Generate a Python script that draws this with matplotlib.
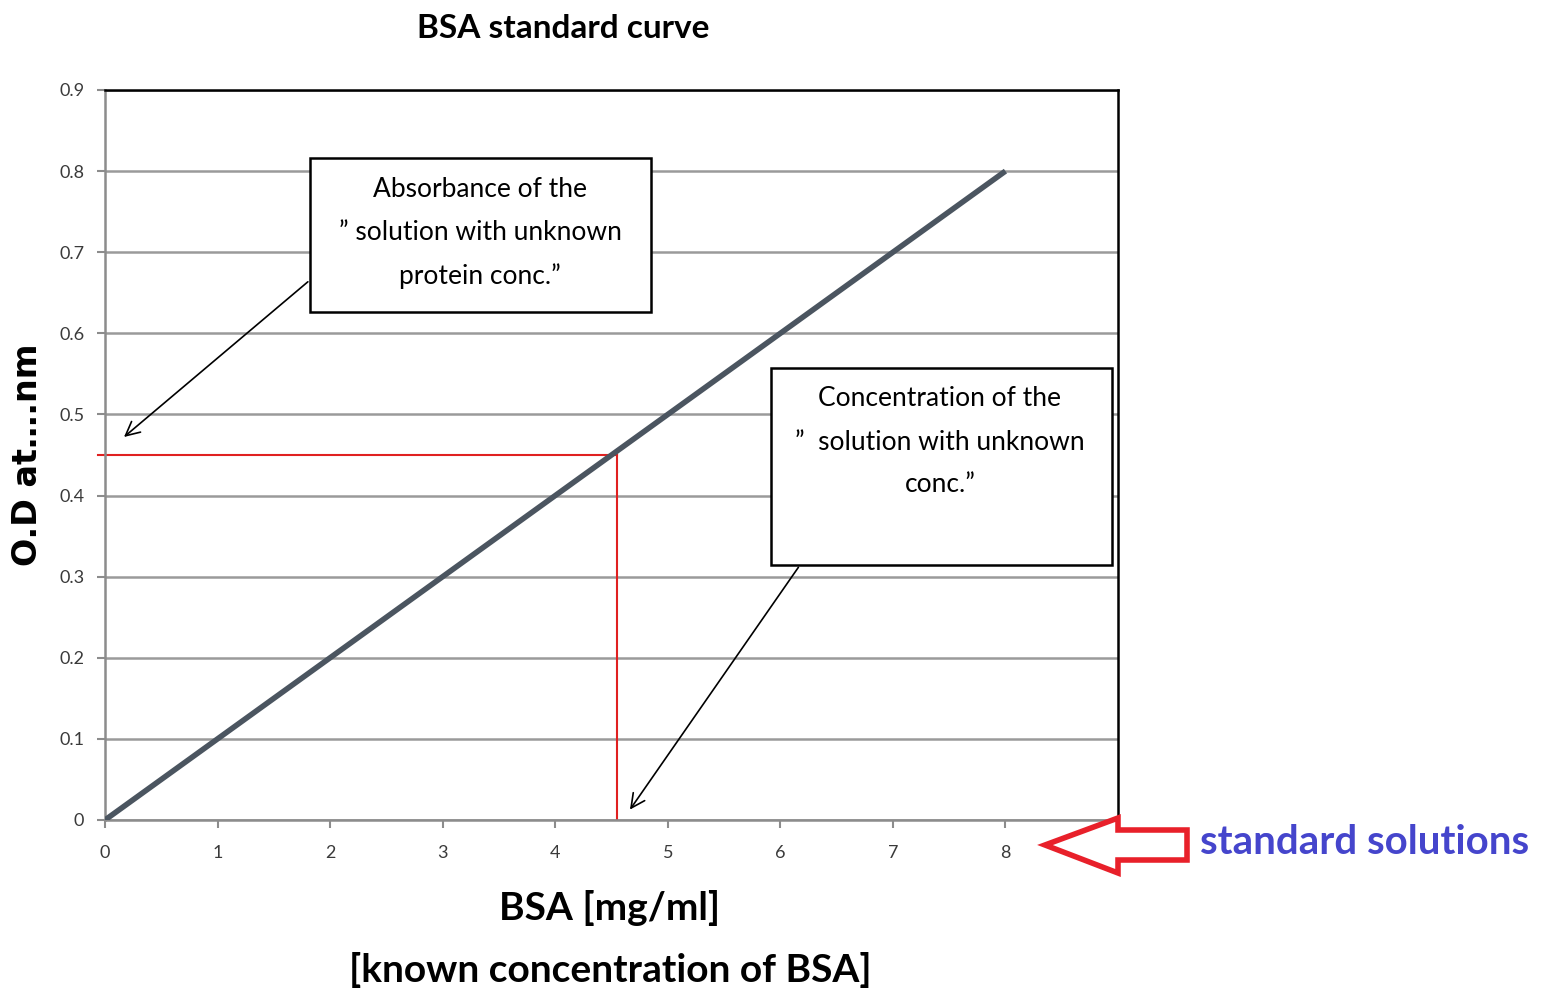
import matplotlib
matplotlib.use('Agg')
import matplotlib.pyplot as plt
import matplotlib.patches as mpatches

plt.rcParams['font.family'] = ['Lato', 'DejaVu Sans']

# стандартная кривая BSA
bsa_conc = [0, 8]
od_values = [0, 0.8]
unknown_od = 0.45
unknown_conc = 4.55

x_ticks = [0, 1, 2, 3, 4, 5, 6, 7, 8]
y_ticks = [0, 0.1, 0.2, 0.3, 0.4, 0.5, 0.6, 0.7, 0.8, 0.9]

W, H = 1554, 994
fig = plt.figure(figsize=(W / 100, H / 100), dpi=100)
ax = fig.add_axes([105 / W, 1 - 820 / H, 1013 / W, 730 / H])

ax.set_xlim(0, 9)
ax.set_ylim(0, 0.9)
ax.set_xticks(x_ticks)
ax.set_yticks(y_ticks)
ax.set_xticklabels([str(t) for t in x_ticks])
ax.set_yticklabels(['0'] + [f'{t:.1f}' for t in y_ticks[1:]])
ax.yaxis.grid(True, color='#9a9a9a', linewidth=1.8)
ax.set_axisbelow(True)
ax.tick_params(axis='both', colors='#8c8c8c', length=6, width=1.5, labelsize=13,
               labelcolor='#3a3a3a', direction='out')
ax.tick_params(axis='x', pad=12)
ax.tick_params(axis='y', pad=9)
for side in ['left', 'bottom']:
    ax.spines[side].set_color('#8c8c8c')
for side in ['left', 'bottom', 'top', 'right']:
    ax.spines[side].set_linewidth(1.8)

# линия калибровки
ax.plot(bsa_conc, od_values, color='#4b5560', linewidth=4, solid_capstyle='butt', zorder=3)

# красные линии для неизвестного образца
ax.plot([-0.06, unknown_conc], [unknown_od, unknown_od], color='#e02020', linewidth=1.5,
        clip_on=False, zorder=2)
ax.plot([unknown_conc, unknown_conc], [0, unknown_od], color='#e02020', linewidth=1.5, zorder=2)

# подписи-выноски
box1 = mpatches.Rectangle((310 / W, 1 - 312 / H), 341 / W, 154 / H, transform=fig.transFigure,
                          facecolor='white', edgecolor='black', linewidth=1.8, zorder=5)
fig.patches.append(box1)
fig.text(480 / W, 1 - 233 / H, 'Absorbance of the\n” solution with unknown\nprotein conc.”',
         ha='center', va='center', fontsize=19, linespacing=1.9, zorder=6)
ax.annotate('', xy=(0.15, 0.47), xycoords='data', xytext=(310 / W, 1 - 280 / H),
            textcoords='figure fraction',
            arrowprops=dict(arrowstyle='->', color='black', lw=1.2, mutation_scale=25))

box2 = mpatches.Rectangle((771 / W, 1 - 565 / H), 341 / W, 197 / H, transform=fig.transFigure,
                          facecolor='white', edgecolor='black', linewidth=1.8, zorder=5)
fig.patches.append(box2)
fig.text(940 / W, 1 - 442 / H, 'Concentration of the\n”  solution with unknown\nconc.”',
         ha='center', va='center', fontsize=19, linespacing=1.9, zorder=6)
ax.annotate('', xy=(4.65, 0.01), xycoords='data', xytext=(800 / W, 1 - 565 / H),
            textcoords='figure fraction',
            arrowprops=dict(arrowstyle='->', color='black', lw=1.2, mutation_scale=25))

# заголовки
fig.text(563 / W, 1 - 28 / H, 'BSA standard curve', ha='center', va='center',
         fontsize=24, fontweight='bold')
fig.text(28 / W, 1 - 455 / H, 'O.D at….nm', ha='center', va='center', rotation=90,
         fontsize=24, fontweight='bold', family=['DejaVu Sans'])
fig.text(610 / W, 1 - 908 / H, 'BSA [mg/ml]', ha='center', va='center',
         fontsize=28, fontweight='bold')
fig.text(610 / W, 1 - 970 / H, '[known concentration of BSA]', ha='center', va='center',
         fontsize=28, fontweight='bold')

# красная стрелка и подпись справа
pts = [(1045, 845), (1118, 818), (1118, 830), (1187, 830), (1187, 860), (1118, 860), (1118, 873)]
arrow = mpatches.Polygon([(x / W, 1 - y / H) for x, y in pts], closed=True,
                         transform=fig.transFigure, facecolor='white', edgecolor='#e8202a',
                         linewidth=4, zorder=5)
fig.patches.append(arrow)
fig.text(1200 / W, 1 - 843 / H, 'standard solutions', ha='left', va='center',
         fontsize=29, fontweight='bold', color='#4545cc')

fig.savefig('out.png', dpi=100)
